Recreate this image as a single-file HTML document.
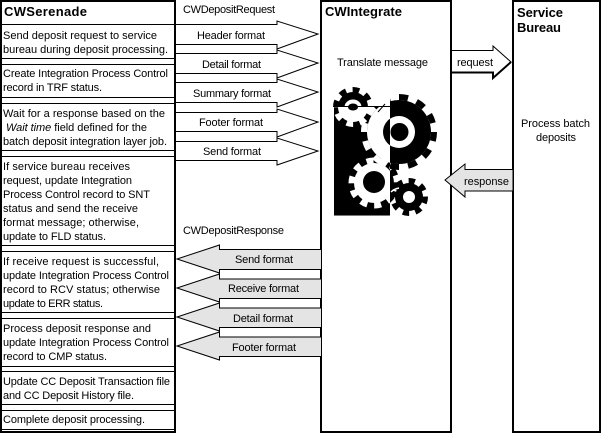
<!DOCTYPE html>
<html><head><meta charset="utf-8"><style>
html,body{margin:0;padding:0;background:#fff;width:601px;height:434px;overflow:hidden}
svg{display:block}
text{font-family:"Liberation Sans",Arial,sans-serif;font-size:11px;fill:#000}
.b{font-weight:bold;font-size:13px}
.m{text-anchor:middle}
.t{fill:none;stroke-width:6;stroke-dasharray:1 1}
</style></head><body>
<svg width="601" height="434" viewBox="0 0 601 434" xmlns="http://www.w3.org/2000/svg" shape-rendering="crispEdges">
<defs>
<clipPath id="L"><rect x="300" y="60" width="90" height="170"/></clipPath>
<clipPath id="R"><rect x="390" y="60" width="80" height="170"/></clipPath>
<clipPath id="T"><rect x="320" y="80" width="70" height="27"/></clipPath>
<clipPath id="B"><rect x="320" y="107" width="70" height="30"/></clipPath>
</defs>
<rect width="601" height="434" fill="#fff"/>

<!-- column frames -->
<rect x="1" y="1" width="174" height="431" fill="#fff" stroke="#000" stroke-width="2"/>
<rect x="321" y="1" width="130" height="431" fill="#fff" stroke="#000" stroke-width="2"/>
<rect x="513" y="1" width="87" height="431" fill="#fff" stroke="#000" stroke-width="2"/>

<!-- rows -->
<g fill="#000">
<rect x="1" y="24" width="174" height="1"/>
<rect x="1" y="58" width="174" height="1"/><rect x="1" y="64" width="174" height="1"/>
<rect x="1" y="97" width="174" height="1"/><rect x="1" y="103" width="174" height="1"/>
<rect x="1" y="150" width="174" height="1"/><rect x="1" y="156" width="174" height="1"/>
<rect x="1" y="245" width="174" height="1"/><rect x="1" y="251" width="174" height="1"/>
<rect x="1" y="312" width="174" height="1"/><rect x="1" y="318" width="174" height="1"/>
<rect x="1" y="366" width="174" height="1"/><rect x="1" y="371" width="174" height="1"/>
<rect x="1" y="404" width="174" height="1"/><rect x="1" y="410" width="174" height="1"/>
<rect x="1" y="429" width="174" height="1"/>
</g>

<text class="b" x="4" y="16" textLength="83">CWSerenade</text>
<text x="3" y="39" textLength="154">Send deposit request to service</text>
<text x="3" y="53" textLength="165">bureau during deposit processing.</text>
<text x="3" y="77" textLength="165">Create Integration Process Control</text>
<text x="3" y="91" textLength="99">record in TRF status.</text>
<text x="3" y="117" textLength="162">Wait for a response based on the</text>
<text x="6" y="131" textLength="141"><tspan font-style="italic">Wait time</tspan> field defined for the</text>
<text x="3" y="145" textLength="164">batch deposit integration layer job.</text>
<text x="3" y="170" textLength="127">If service bureau receives</text>
<text x="3" y="184" textLength="129">request, update Integration</text>
<text x="3" y="198" textLength="147">Process Control record to SNT</text>
<text x="3" y="212" textLength="135">status and send the receive</text>
<text x="3" y="226" textLength="136">format message; otherwise,</text>
<text x="3" y="240" textLength="103">update to FLD status.</text>
<text x="3" y="265" textLength="156">If receive request is successful,</text>
<text x="3" y="279" textLength="166">update Integration Process Control</text>
<text x="3" y="293" textLength="157">record to RCV status; otherwise</text>
<text x="3" y="307" textLength="100">update to ERR status.</text>
<text x="3" y="332" textLength="148">Process deposit response and</text>
<text x="3" y="346" textLength="166">update Integration Process Control</text>
<text x="3" y="360" textLength="104">record to CMP status.</text>
<text x="3" y="385" textLength="167">Update CC Deposit Transaction file</text>
<text x="3" y="399" textLength="131">and CC Deposit History file.</text>
<text x="3" y="423" textLength="142">Complete deposit processing.</text>

<!-- request arrows -->
<g fill="#fff" stroke="#000" stroke-width="1" shape-rendering="auto">
<path d="M175.5 24.5H277V21L318 34L277 49V44.5H175.5Z"/>
<path d="M175.5 53.5H277V50L318 63L277 78V73.5H175.5Z"/>
<path d="M175.5 82.5H277V79L318 92L277 107V102.5H175.5Z"/>
<path d="M175.5 112.5H277V109L318 122L277 137V131.5H175.5Z"/>
<path d="M175.5 141.5H277V138L318 151L277 165V160.5H175.5Z"/>
</g>
<text x="183" y="13" textLength="92">CWDepositRequest</text>
<text class="m" x="231" y="39" textLength="68">Header format</text>
<text class="m" x="231.5" y="68" textLength="59">Detail format</text>
<text class="m" x="232" y="97" textLength="78">Summary format</text>
<text class="m" x="231" y="126" textLength="64">Footer format</text>
<text class="m" x="232" y="155" textLength="58">Send format</text>

<!-- response arrows -->
<g fill="#e4e4e4" stroke="#000" stroke-width="1" shape-rendering="auto">
<path d="M321 249.5H219.5V245L177 259L219.5 273V269.5H321"/>
<path d="M321 279H219.5V274L177 288L219.5 302V298.5H321"/>
<path d="M321 308H219.5V303L177 317L219.5 331V327.5H321"/>
<path d="M321 337H219.5V332L177 346L219.5 360V356.5H321"/>
</g>
<text x="183" y="234" textLength="101">CWDepositResponse</text>
<text class="m" x="264" y="263" textLength="58">Send format</text>
<text class="m" x="263.5" y="292" textLength="71">Receive format</text>
<text class="m" x="263" y="322" textLength="60">Detail format</text>
<text class="m" x="264" y="351" textLength="64">Footer format</text>

<text class="b" x="325" y="16" textLength="77">CWIntegrate</text>
<text class="m" x="382.5" y="66" textLength="91">Translate message</text>

<!-- gears -->
<g shape-rendering="auto">
<rect x="334" y="107" width="56" height="108" fill="#000"/>
<rect x="334" y="215" width="56" height="1" fill="#777"/>

<!-- bottom-left gear, black part beyond the block -->
<g clip-path="url(#R)">
<circle cx="374" cy="183" r="20" fill="#000"/>
<circle cx="374" cy="183" r="22.5" stroke="#000" class="t" pathLength="20"/>
</g>

<!-- big gear, right black -->
<g clip-path="url(#R)">
<circle cx="399" cy="132" r="32" fill="#000"/>
<circle cx="399" cy="132" r="35" stroke="#000" class="t" pathLength="24"/>
<circle cx="399" cy="132" r="16" fill="#fff"/>
<circle cx="399.5" cy="132" r="9" fill="#000"/>
</g>
<!-- big gear, left white -->
<g clip-path="url(#L)">
<circle cx="399" cy="132" r="32" fill="#fff"/>
<circle cx="399" cy="132" r="35" stroke="#fff" class="t" pathLength="24"/>
<circle cx="399" cy="132" r="16" fill="#000"/>
</g>

<!-- top-left gear: black above the block, white inside it -->
<g clip-path="url(#T)">
<circle cx="353" cy="107" r="15" fill="#000"/>
<circle cx="353" cy="107" r="17" stroke="#000" class="t" pathLength="16"/>
</g>
<g clip-path="url(#B)">
<circle cx="353" cy="107" r="15" fill="#fff"/>
<circle cx="353" cy="107" r="17" stroke="#fff" class="t" pathLength="16"/>
</g>
<ellipse cx="353" cy="107" rx="8.5" ry="7.5" fill="#fff"/>
<ellipse cx="353" cy="107" rx="5" ry="3.5" fill="#000"/>
<rect x="334" y="106" width="56" height="1" fill="#000"/>
<path d="M378 112L385 104" stroke="#000" stroke-width="1" fill="none"/>

<!-- bottom-left gear -->
<g clip-path="url(#L)">
<circle cx="374" cy="183" r="20" fill="#fff"/>
<circle cx="374" cy="183" r="22.5" stroke="#fff" class="t" pathLength="20"/>
<circle cx="374" cy="182" r="11" fill="#000"/>
</g>

<!-- bottom right gear -->
<circle cx="409" cy="197" r="14" fill="#000"/>
<circle cx="409" cy="197" r="16" stroke="#000" class="t" pathLength="16"/>
<circle cx="409" cy="197" r="6" fill="#fff"/>
<path d="M391 192Q394 189 399 188" stroke="#fff" stroke-width="1.5" fill="none"/>
</g>

<!-- request / response block arrows -->
<g shape-rendering="auto">
<path d="M452 72.5H493V78L511 62L493 46V50.5H452" fill="#fff" stroke="#000" stroke-width="1"/>
<path d="M452 72.5H493V78L511 62" fill="none" stroke="#000" stroke-width="2"/>
<path d="M513 169.5H465V164L445 180L465 197V191H513Z" fill="#e4e4e4" stroke="#000" stroke-width="1"/>
</g>
<text x="457" y="66" textLength="36">request</text>
<text x="464" y="185" textLength="45">response</text>

<text class="b" x="517" y="17" textLength="46">Service</text>
<text class="b" x="517" y="32" textLength="44">Bureau</text>
<text class="m" x="555.5" y="127" textLength="69">Process batch</text>
<text class="m" x="556" y="141" textLength="40">deposits</text>
</svg>
</body></html>
